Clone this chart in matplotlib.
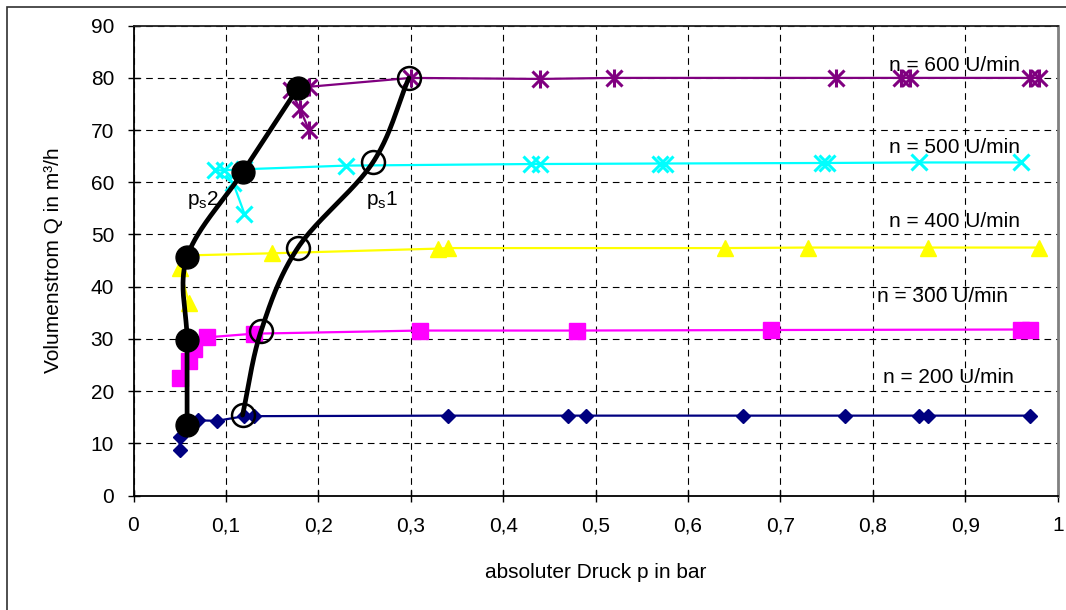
import numpy as np
import matplotlib
matplotlib.use("Agg")
import matplotlib.pyplot as plt
from matplotlib.patches import Rectangle

plt.rcParams['font.family'] = ['Liberation Sans', 'DejaVu Sans']

# ---- data ----
p200 = [0.05, 0.05, 0.06, 0.07, 0.09, 0.12, 0.13, 0.34, 0.47, 0.49, 0.66, 0.77, 0.85, 0.86, 0.97]
q200 = [8.7, 11.3, 13.3, 14.4, 14.3, 15.2, 15.2, 15.3, 15.3, 15.3, 15.3, 15.3, 15.3, 15.3, 15.3]

p300 = [0.05, 0.06, 0.065, 0.08, 0.13, 0.31, 0.48, 0.69, 0.96, 0.97]
q300 = [22.5, 25.8, 28.1, 30.3, 31.0, 31.6, 31.6, 31.7, 31.8, 31.8]

p400 = [0.06, 0.05, 0.06, 0.15, 0.33, 0.34, 0.64, 0.73, 0.86, 0.98]
q400 = [36.8, 43.5, 46.0, 46.4, 47.3, 47.4, 47.4, 47.5, 47.5, 47.5]

p500 = [0.12, 0.108, 0.088, 0.098, 0.12, 0.23, 0.43, 0.44, 0.57, 0.575, 0.745, 0.75, 0.85, 0.96]
q500 = [54.0, 59.8, 62.3, 62.3, 62.5, 63.2, 63.5, 63.5, 63.6, 63.6, 63.7, 63.7, 63.8, 63.8]

p600 = [0.19, 0.18, 0.17, 0.18, 0.19, 0.30, 0.44, 0.52, 0.76, 0.83, 0.84, 0.97, 0.98]
q600 = [70.0, 74.1, 77.6, 78.1, 78.3, 80.0, 79.8, 80.0, 80.0, 80.0, 80.0, 80.0, 80.0]

ps2_p = [0.058, 0.058, 0.058, 0.118, 0.178]
ps2_q = [13.6, 29.7, 45.7, 61.9, 78.1]

ps1_p = [0.118, 0.138, 0.178, 0.259, 0.298]
ps1_q = [15.4, 31.5, 47.5, 63.8, 80.0]

speed_labels = ["n = 600 U/min", "n = 500 U/min", "n = 400 U/min", "n = 300 U/min", "n = 200 U/min"]
speed_label_x = [0.818, 0.818, 0.818, 0.804, 0.811]
speed_label_y = [82.3, 66.7, 52.4, 38.2, 22.7]

x_ticks = [0, 0.1, 0.2, 0.3, 0.4, 0.5, 0.6, 0.7, 0.8, 0.9, 1]
x_ticklabels = ["0", "0,1", "0,2", "0,3", "0,4", "0,5", "0,6", "0,7", "0,8", "0,9", "1"]
y_ticks = [0, 10, 20, 30, 40, 50, 60, 70, 80, 90]


def smooth(xs, ys, n=40):
    """Catmull-Rom style smoothing similar to Excel's smoothed lines."""
    P = np.column_stack([xs, ys]).astype(float)
    ext = np.vstack([2 * P[0] - P[1], P, 2 * P[-1] - P[-2]])
    out = []
    for i in range(1, len(ext) - 2):
        p0, p1, p2, p3 = ext[i - 1], ext[i], ext[i + 1], ext[i + 2]
        t = np.linspace(0, 1, n)[:, None]
        seg = 0.5 * ((2 * p1) + (-p0 + p2) * t + (2 * p0 - 5 * p1 + 4 * p2 - p3) * t ** 2
                     + (-p0 + 3 * p1 - 3 * p2 + p3) * t ** 3)
        out.append(seg)
    out = np.vstack(out)
    return out[:, 0], out[:, 1]


FS = 15
W, H = 1066, 610
fig = plt.figure(figsize=(W / 100, H / 100), dpi=100)
L, R, T, B = 133.5, 1057.7, 25.7, 495.5
ax = fig.add_axes([L / W, 1 - B / H, (R - L) / W, (B - T) / H])

# outer chart border
fig.patches.append(Rectangle((7 / W, -0.05), 1.2, 1 - 7 / H + 0.05, transform=fig.transFigure,
                             fill=False, edgecolor='#303030', linewidth=1.2))

ax.set_xlim(0, 1)
ax.set_ylim(0, 90)
ax.set_xticks(x_ticks)
ax.set_xticklabels(x_ticklabels)
ax.set_yticks(y_ticks)
ax.tick_params(axis='both', direction='inout', length=8, width=1, labelsize=FS, colors='black')
ax.tick_params(axis='x', pad=11)
ax.tick_params(axis='y', pad=10)
ax.grid(True, color='black', linestyle=(0, (6, 4.5)), linewidth=0.8)
ax.set_axisbelow(True)
for s in ['left', 'bottom']:
    ax.spines[s].set_color('black')
    ax.spines[s].set_linewidth(1.3)
ax.spines['top'].set_color('#202020')
ax.spines['top'].set_linewidth(1.3)
ax.spines['right'].set_color('#808080')
ax.spines['right'].set_linewidth(2)

lw = 1.6
ax.plot(p200, q200, color='#000080', lw=lw, marker='D', ms=7.5, mec='#000080', mfc='#000080', zorder=3)
ax.plot(p300, q300, color='#FF00FF', lw=lw, marker='s', ms=11, mec='#FF00FF', mfc='#FF00FF', zorder=3)
ax.plot(p400, q400, color='#FFFF00', lw=lw, marker='^', ms=11, mec='#FFFF00', mfc='#FFFF00', zorder=3)
ax.plot(p500, q500, color='#00FFFF', lw=lw, marker='x', ms=11, mew=2.2, mec='#00FFFF', zorder=3)
ax.plot(p600, q600, color='#800080', lw=lw, marker='x', ms=11, mew=2.2, mec='#800080', zorder=3)
ax.plot(p600, q600, ls='none', marker='|', ms=13, mew=2.2, mec='#800080', zorder=3)

sx, sy = smooth(ps2_p, ps2_q)
ax.plot(sx, sy, color='black', lw=3.4, zorder=4, solid_capstyle='round')
ax.plot(ps2_p, ps2_q, ls='none', marker='o', ms=16.5, mfc='black', mec='black', zorder=5)

sx, sy = smooth(ps1_p, ps1_q)
ax.plot(sx, sy, color='black', lw=3.4, zorder=4, solid_capstyle='round')
ax.plot(ps1_p, ps1_q, ls='none', marker='o', ms=16.5, mfc='none', mec='black', mew=1.8, zorder=5)

for txt, x, y in zip(speed_labels, speed_label_x, speed_label_y):
    ax.text(x, y, txt, fontsize=FS, ha='left', va='center', zorder=6)

ax.text(0.058, 56.6, r"p$_\mathregular{s}$2", fontsize=FS, ha='left', va='center', zorder=6)
ax.text(0.252, 56.6, r"p$_\mathregular{s}$1", fontsize=FS, ha='left', va='center', zorder=6)

ax.set_xlabel("absoluter Druck p in bar", fontsize=FS, labelpad=20)
ax.set_ylabel("Volumenstrom Q in m³/h", fontsize=FS, labelpad=20)

fig.savefig("out.png", dpi=100)
